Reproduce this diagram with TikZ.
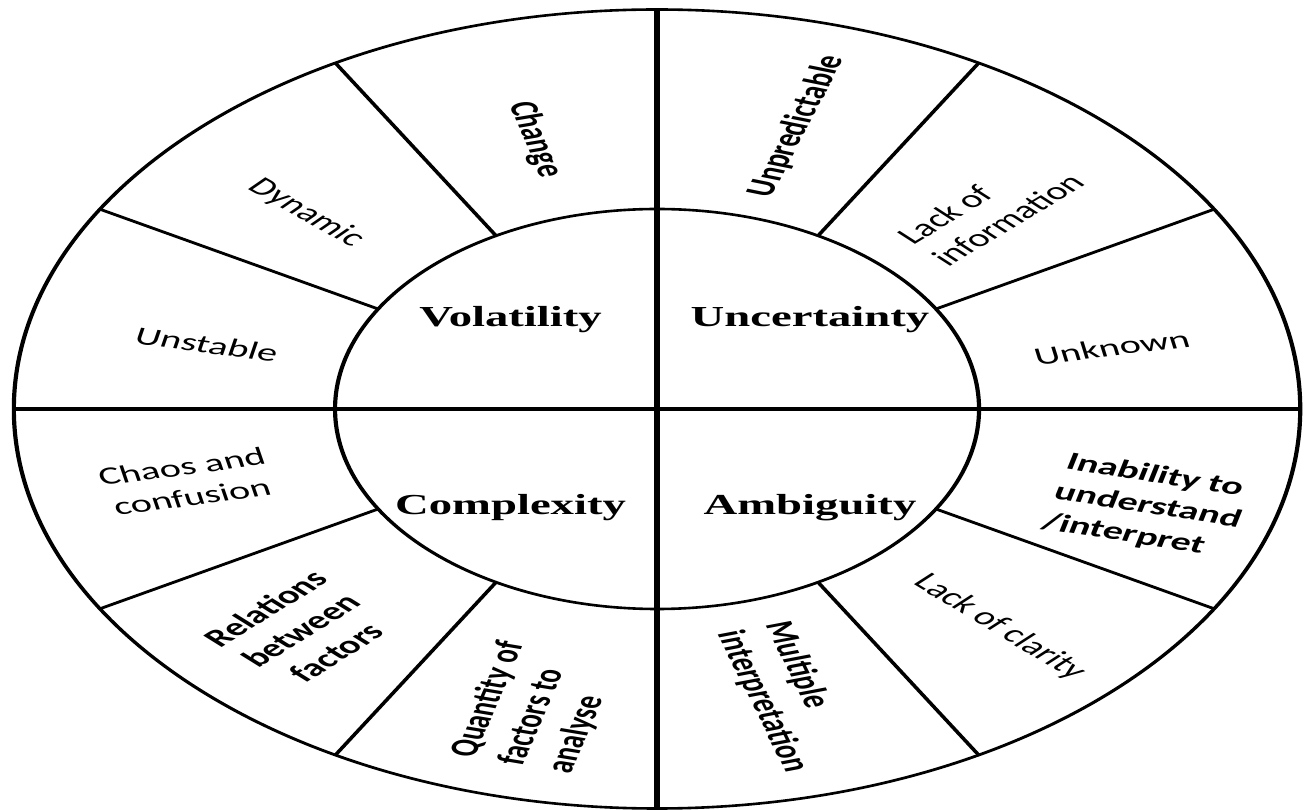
\documentclass[tikz,border=0pt]{standalone}
\usepackage{fontspec}
\setmainfont{Carlito}
\newfontfamily\serifface{Liberation Serif}
\tikzset{
  ring/.style={circle, draw, line width=2.6pt, inner sep=0pt, outer sep=0pt},
  divider/.style={line width=2.6pt},
  axisline/.style={line width=3.4pt},
  core/.style={font=\serifface\bfseries\fontsize{29}{34}\selectfont, anchor=base, inner sep=0pt},
  lab/.style={font=\fontsize{25}{31}\selectfont, inner sep=0pt},
  labb/.style={font=\bfseries\fontsize{25}{31}\selectfont, inner sep=0pt},
}
\begin{document}
\begin{tikzpicture}[x=1pt,y=1pt]
\fill[white] (0,0) rectangle (1304,809);
\begin{scope}[transform canvas={xscale=1.61}]
\begin{scope}[shift={(408.1,400)}]
  \node[ring, minimum size=799pt] (outer) at (0,0) {};
  \node[ring, minimum size=400pt] (inner) at (0,0) {};
  \draw[axisline] (outer.north) -- (outer.south);
  \draw[axisline] (outer.west) -- (outer.east);
  \foreach \a in {30,60,120,150,210,240,300,330}
    \draw[divider] (inner.\a) -- (outer.\a);
  % core words
  \node[core] (vol) at (-91,82) {Volatility};
  \node[core] (unc) at (95,82) {Uncertainty};
  \node[core] (cpx) at (-91,-106) {Complexity};
  \node[core] (amb) at (95,-106) {Ambiguity};
  % outer labels
  \node[labb, rotate=-75] (change) at (105.7:280) {Change};
  \node[lab, rotate=-42] (dyn) at (138:293) {Dynamic};
  \node[lab, rotate=-12] (unst) at (167:287) {Unstable};
  \node[labb, rotate=72] (unpred) at (72.9:296) {Unpredictable};
  \node[lab, rotate=44, align=left] (lackinfo) at (44:288) {Lack of\\information};
  \node[lab, rotate=11] (unknown) at (12.3:289) {Unknown};
  \node[lab, rotate=12, align=center] (chaos) at (194:301) {Chaos and\\confusion};
  \node[labb, rotate=45, align=center] (rel) at (225:313) {Relations\\between\\factors};
  \node[labb, rotate=75, align=left] (quant) at (255.9:308) {Quantity of\\factors to\\analyse};
  \node[labb, rotate=-73, align=left] (multi) at (-74.4:299) {Multiple\\interpretation};
  \node[lab, rotate=-44] (clarity) at (-45.7:305) {Lack of clarity};
  \node[labb, rotate=-14, align=left] (inab) at (-17.7:320) {Inability to\\understand\\/interpret};
\end{scope}
\end{scope}
\pgfresetboundingbox
\useasboundingbox (0,0) rectangle (1304,809);
\end{tikzpicture}
\end{document}
